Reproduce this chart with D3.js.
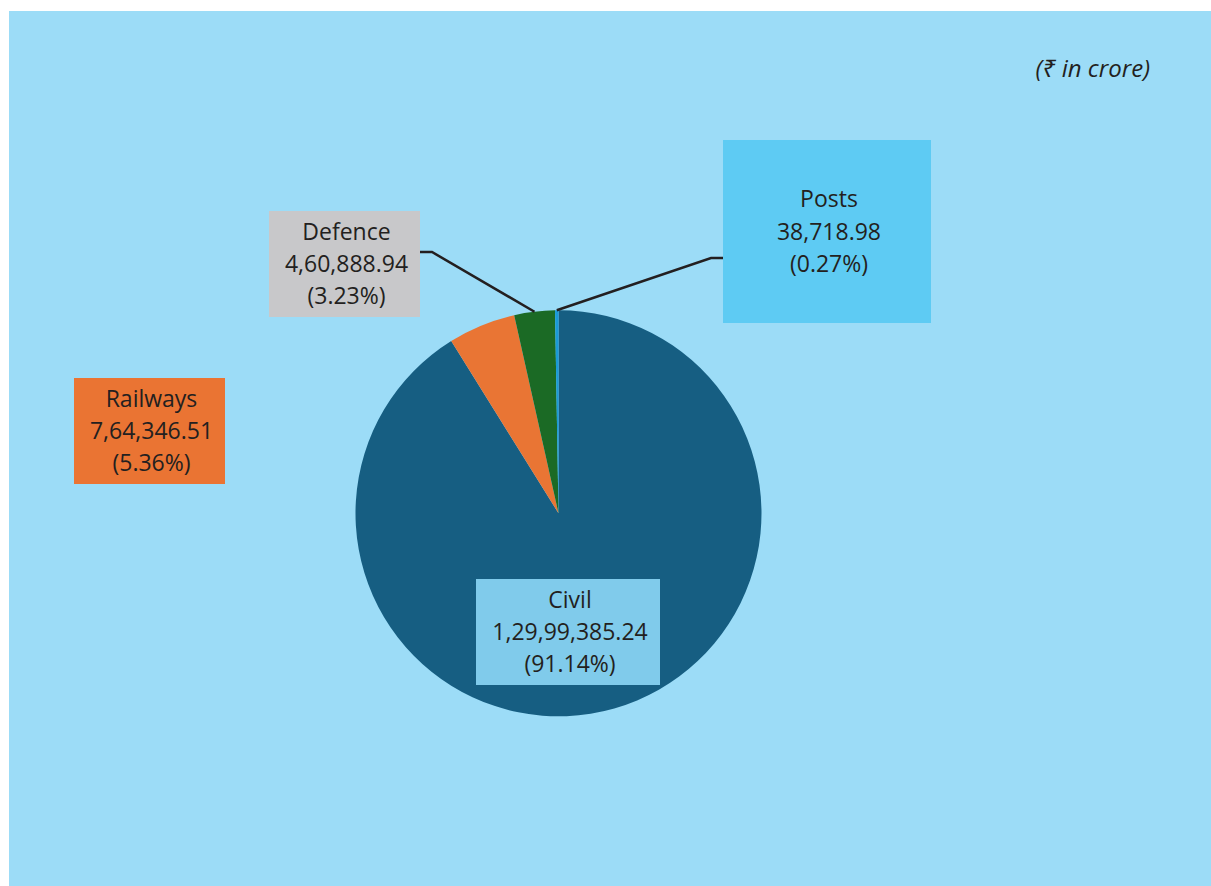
<!DOCTYPE html>
<html>
<head>
<meta charset="utf-8">
<script src="https://cdn.jsdelivr.net/npm/d3@7"></script>
<style>
  body { margin: 0; background: #fff; }
  svg { display: block; }
  text { font-family: "Open Sans", "Noto Sans", sans-serif; fill: #231f20; }
</style>
</head>
<body>
<script>
var w = 1211,
    h = 886;

// data
var categories = ["Civil", "Railways", "Defence", "Posts"];
var values = [12999385.24, 764346.51, 460888.94, 38718.98];
var sliceColors = ["#165e82", "#e97534", "#1b6a25", "#1a9ad6"];
var boxColors = ["#80cbeb", "#ea7433", "#c8c8ca", "#5ecbf3"];
var unitLabel = "(\u20B9 in crore)";

// label box layout (x, y, width, height) and leader-line bend points
var boxes = [
    {x: 476, y: 579, w: 184, h: 106, leader: null},
    {x: 74, y: 378, w: 151, h: 106, leader: null},
    {x: 269, y: 211, w: 151, h: 106, leader: {side: "right", bendX: 432, y: 252}},
    {x: 723, y: 140, w: 208, h: 183, leader: {side: "left", bendX: 711, y: 258}}
];

var cx = 558.5, cy = 513.3, r = 203;

// indian number grouping, e.g. 1,29,99,385.24
function indianFormat(v) {
    var parts = v.toFixed(2).split(".");
    var s = parts[0];
    var last3 = s.slice(-3);
    var rest = s.slice(0, -3);
    if (rest.length > 0) {
        rest = rest.replace(/\B(?=(\d{2})+(?!\d))/g, ",");
        last3 = rest + "," + last3;
    }
    return last3 + "." + parts[1];
}

var total = d3.sum(values);

var mySVG = d3.select("body")
    .append("svg")
    .attr("width", w)
    .attr("height", h);

// background panel
mySVG.append("rect")
    .attr("x", 9)
    .attr("y", 11)
    .attr("width", w - 9)
    .attr("height", h - 11)
    .attr("fill", "#9cdcf7");

mySVG.append("text")
    .attr("x", 1150)
    .attr("y", 77)
    .attr("text-anchor", "end")
    .attr("font-size", 24)
    .attr("font-style", "italic")
    .text(unitLabel);

var pie = d3.pie().sort(null).value(function (d) { return d; });
var arcs = pie(values);

var arc = d3.arc().innerRadius(0).outerRadius(r);

var g = mySVG.append("g")
    .attr("transform", "translate(" + cx + "," + cy + ")");

g.selectAll("path")
    .data(arcs)
    .enter()
    .append("path")
    .attr("d", arc)
    .attr("fill", function (d, i) { return sliceColors[i]; });

// leader lines for the small slices
arcs.forEach(function (d, i) {
    var b = boxes[i];
    if (!b.leader) return;
    var mid = (d.startAngle + d.endAngle) / 2;
    var px = cx + r * Math.sin(mid);
    var py = cy - r * Math.cos(mid);
    var ex = b.leader.side === "right" ? b.x + b.w : b.x;
    mySVG.append("polyline")
        .attr("points", [[ex, b.leader.y], [b.leader.bendX, b.leader.y], [px, py]].join(" "))
        .attr("fill", "none")
        .attr("stroke", "#231f20")
        .attr("stroke-width", 2.5);
});

// label boxes
categories.forEach(function (c, i) {
    var b = boxes[i];
    var pct = (values[i] / total * 100).toFixed(2) + "%";
    var lines = [c, indianFormat(values[i]), "(" + pct + ")"];
    mySVG.append("rect")
        .attr("x", b.x)
        .attr("y", b.y)
        .attr("width", b.w)
        .attr("height", b.h)
        .attr("fill", boxColors[i]);
    var midY = b.y + b.h / 2;
    mySVG.selectAll(null)
        .data(lines)
        .enter()
        .append("text")
        .attr("x", b.x + b.w / 2 + 2)
        .attr("y", function (d, j) { return midY + (j - 1) * 32.3 + 8; })
        .attr("text-anchor", "middle")
        .attr("font-size", 23)
        .text(function (d) { return d; });
});
</script>
</body>
</html>
